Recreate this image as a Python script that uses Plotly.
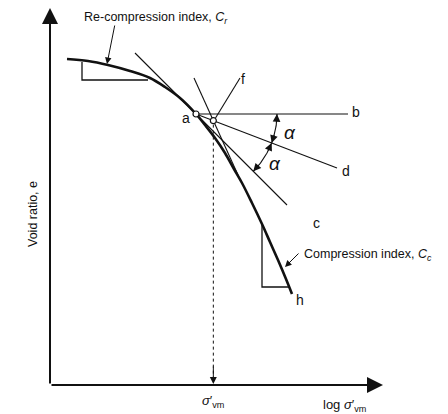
import numpy as np
import plotly.graph_objects as go

# e - log(sigma'_v) consolidation curve (arbitrary units)
curve_logs = [0.17, 0.38, 0.58, 0.80, 1.00, 1.15, 1.30, 1.46, 1.55, 1.65, 1.75,
              1.84, 1.92, 2.02, 2.12, 2.20, 2.28, 2.36, 2.42]
curve_e = [3.26, 3.24, 3.20, 3.14, 3.07, 2.98, 2.87, 2.71, 2.60, 2.47, 2.32,
           2.16, 2.02, 1.82, 1.61, 1.43, 1.25, 1.06, 0.91]

# Casagrande construction
point_a = (1.46, 2.71)           # point of maximum curvature
b_end_logs = 2.98                # horizontal line a-b
tangent_logs = [0.85, 2.37]      # tangent at a (line a-c)
tangent_slope = -1.0
bisector_end = (2.87, 2.17)      # bisector a-d
steep_logs = [1.44, 1.88]        # extension of virgin compression line
steep_e = [3.07, 2.10]
f_logs = [1.655, 1.90]
f_e = [2.67, 3.07]
arc_radius = 0.81

# index triangles
cr_tri_logs = [0.32, 0.32, 0.98]
cr_tri_e = [3.23, 3.05, 3.05]
cc_tri_logs = [2.12, 2.12, 2.40]
cc_tri_e = [1.61, 0.98, 0.98]

ax0, ay0 = point_a
tan_e = [ay0 + tangent_slope * (x - ax0) for x in tangent_logs]
d_slope = (bisector_end[1] - ay0) / (bisector_end[0] - ax0)

# sigma'_vm: intersection of bisector and steep line
s_slope = (steep_e[1] - steep_e[0]) / (steep_logs[1] - steep_logs[0])
xm = (steep_e[0] - s_slope * steep_logs[0] - ay0 + d_slope * ax0) / (d_slope - s_slope)
ym = ay0 + d_slope * (xm - ax0)

BLACK = "#111111"
fig = go.Figure()

def line(x, y, width=1.1, dash=None, shape="linear"):
    fig.add_trace(go.Scatter(x=x, y=y, mode="lines", hoverinfo="skip",
                             line=dict(color=BLACK, width=width, dash=dash, shape=shape)))

line(curve_logs, curve_e, width=2.6, shape="spline")
line([ax0, b_end_logs], [ay0, ay0])
line(tangent_logs, tan_e)
line([ax0, bisector_end[0]], [ay0, bisector_end[1]])
line(steep_logs, steep_e)
line(f_logs, f_e)
line(cr_tri_logs, cr_tri_e, width=1.3)
line(cc_tri_logs, cc_tri_e, width=1.3)
line([xm, xm], [ym - 0.04, 0.06], width=1, dash="dot")

# angle arcs between b, d and the tangent
ang_b = 0.0
ang_d = np.degrees(np.arctan(-d_slope))
ang_c = np.degrees(np.arctan(-tangent_slope))

def arc_pt(deg):
    r = np.radians(deg)
    return ax0 + arc_radius * np.cos(r), ay0 - arc_radius * np.sin(r)

for a1, a2 in [(ang_b, ang_d), (ang_d, ang_c)]:
    th = np.linspace(a1, a2, 30)
    pts = [arc_pt(t) for t in th]
    line([p[0] for p in pts], [p[1] for p in pts], width=1.1)

annotations = []

def arrow(head, tail, width=1.1, size=1.3, head_style=2):
    annotations.append(dict(x=head[0], y=head[1], ax=tail[0], ay=tail[1],
                            xref="x", yref="y", axref="x", ayref="y", text="",
                            showarrow=True, arrowhead=head_style, arrowsize=size,
                            arrowwidth=width, arrowcolor=BLACK, standoff=0))

for a1, a2 in [(ang_b, ang_d), (ang_d, ang_c)]:
    arrow(arc_pt(a1), arc_pt(a1 + 7), size=1.4)
    arrow(arc_pt(a2), arc_pt(a2 - 7), size=1.4)

# axes with arrowheads
arrow((0, 3.77), (0, 0), width=2, size=1.6)
arrow((3.33, 0), (0, 0), width=2, size=1.6)
# sigma'_vm marker arrow
arrow((xm, 0.01), (xm, 0.2), width=1, size=1.4)
# pointers to the index slopes
arrow((0.57, 3.21), (0.65, 3.61), width=1, size=1.3)
arrow((2.35, 1.18), (2.50, 1.33), width=1, size=1.3)

fig.add_trace(go.Scatter(x=[ax0, xm], y=[ay0, ym], mode="markers", hoverinfo="skip",
                         marker=dict(size=6, color="white",
                                     line=dict(color=BLACK, width=1.2))))

FONT = "Arial, Liberation Sans, sans-serif"

def text(x, y, s, size=13, xanchor="center", angle=0):
    annotations.append(dict(x=x, y=y, xref="x", yref="y", text=s, showarrow=False,
                            xanchor=xanchor, yanchor="middle", textangle=angle,
                            font=dict(family=FONT, size=size, color=BLACK)))

text(0.32, 3.67, "Re-compression index, <i>C<sub>r</sub></i>", size=12.5, xanchor="left")
text(2.52, 1.30, "Compression index, <i>C<sub>c</sub></i>", size=12.5, xanchor="left")
text(-0.17, 1.71, "Void ratio, e", size=12.5, angle=-90)
text(xm, -0.16, "<i>σ</i>′<sub>vm</sub>", size=13)
text(2.94, -0.20, "log <i>σ</i>′<sub>vm</sub>", size=13)
text(1.36, 2.67, "a", size=14)
text(3.06, 2.73, "b", size=14)
text(2.66, 1.62, "c", size=14)
text(2.96, 2.14, "d", size=14)
text(1.93, 3.06, "f", size=14)
text(2.50, 0.85, "h", size=14)
text(2.40, 2.53, "<i>α</i>", size=19)
text(2.25, 2.22, "<i>α</i>", size=19)

fig.update_layout(
    width=448, height=414, margin=dict(l=0, r=0, t=0, b=0),
    paper_bgcolor="white", plot_bgcolor="white", showlegend=False,
    xaxis=dict(range=[-0.5, 3.98], visible=False, fixedrange=True),
    yaxis=dict(range=[-0.29, 3.85], visible=False, fixedrange=True),
    annotations=annotations,
)

fig.write_html("out.html")
